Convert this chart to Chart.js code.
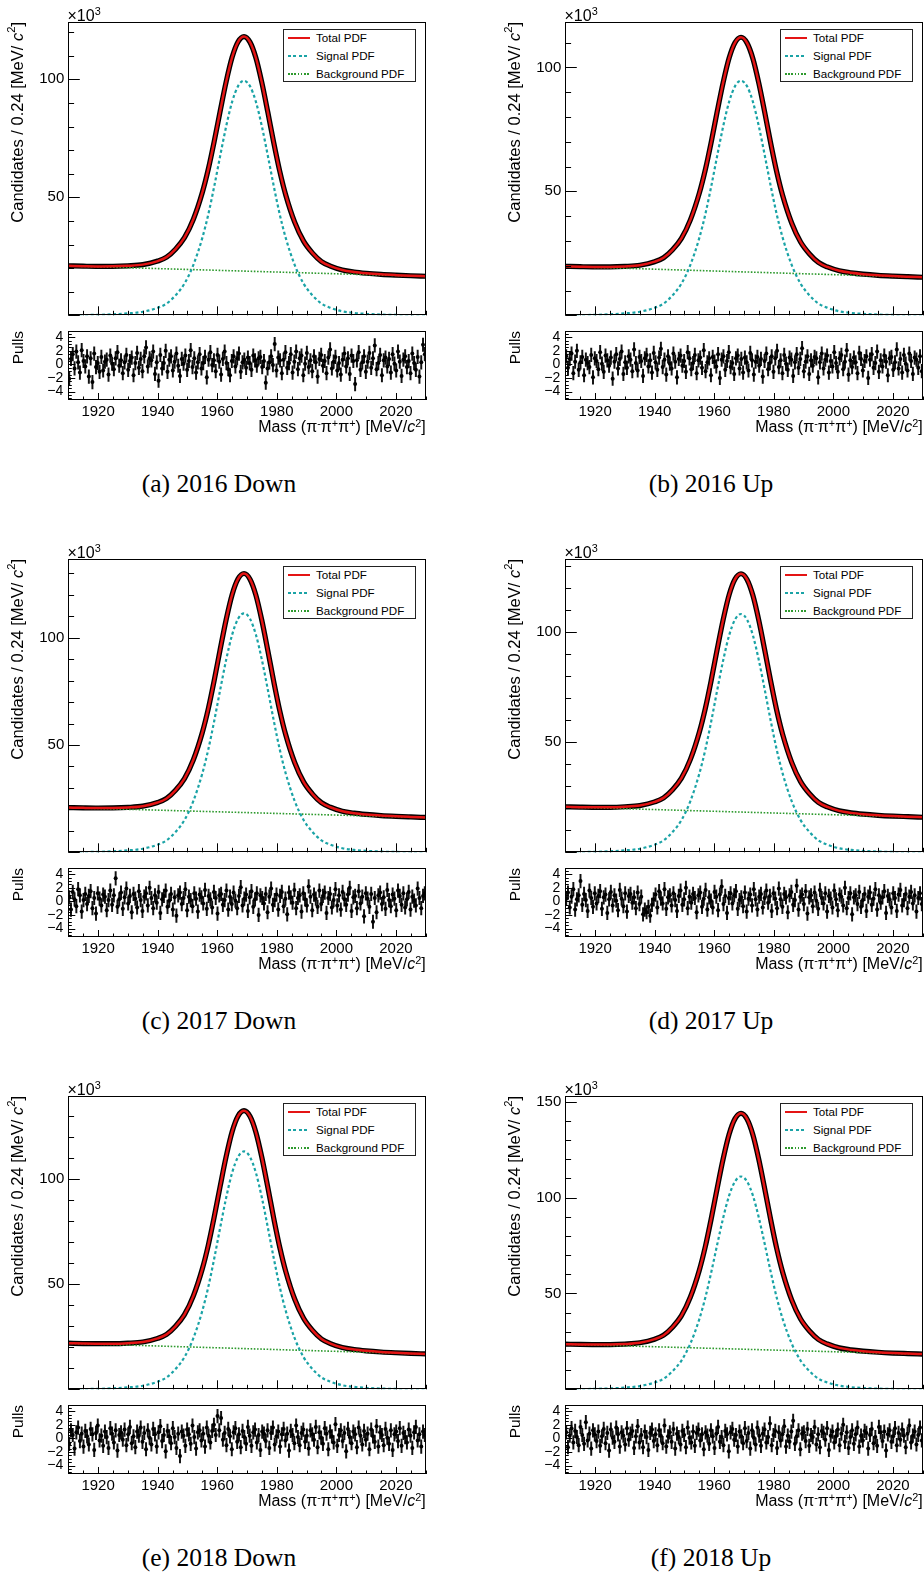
<!DOCTYPE html>
<html><head><meta charset="utf-8">
<script src="https://cdn.jsdelivr.net/npm/chart.js@4.4.1/dist/chart.umd.min.js"></script>
<style>
html,body{margin:0;padding:0;background:#fff;}
body{width:924px;height:1578px;position:relative;overflow:hidden;font-family:"Liberation Sans",Arial,sans-serif;color:#000;}
canvas{position:absolute;}
.ytitle{position:absolute;writing-mode:vertical-rl;transform:rotate(180deg);white-space:nowrap;line-height:1;}
.vsup{font-size:0.68em;vertical-align:super;line-height:0;}
.xtitle{position:absolute;white-space:nowrap;text-align:right;font-size:16px;line-height:16px;}
.sup{font-size:0.68em;position:relative;top:-0.5em;line-height:0;}
.exp{position:absolute;font-size:16px;line-height:16px;white-space:nowrap;}
.caption{position:absolute;font-family:"Liberation Serif","Times New Roman",serif;font-size:25.5px;line-height:1;white-space:nowrap;transform:translate(-50%,-50%);}
.legend{position:absolute;border:1px solid #222;background:#fff;width:133px;height:53px;box-sizing:border-box;font-size:11.6px;}
.legend .t{position:absolute;left:32px;line-height:12px;white-space:nowrap;}
.legend .s{position:absolute;left:4px;width:22px;}
</style>
</head><body>
<script>
// ---------- data (values in units of 10^3 candidates) ----------
const MASS = [1910,1915,1920,1925,1930,1935,1940,1943,1946,1949,1952,1955,1957,1959,1961,1963,1965,1967,1969,1971,1973,1975,1977,1979,1981,1983,1986,1989,1992,1995,1998,2002,2006,2010,2015,2020,2025,2030];
const BG_MASS = [1910, 2030];

const totalA = [20.95,20.82,20.73,20.75,20.97,21.47,22.98,24.66,28.03,32.89,40.73,52.05,61.92,73.77,86.62,98.98,109.33,115.92,118.14,115.77,109.04,98.54,86.03,73.04,61.04,51.02,39.48,31.42,26.34,22.75,20.85,19.22,18.37,17.83,17.35,17.02,16.76,16.54];
const signalA = [0.05,0.1,0.2,0.4,0.8,1.49,3.18,4.97,8.45,13.42,21.37,32.8,42.74,54.67,67.59,80.02,90.45,97.11,99.4,97.11,90.45,80.02,67.59,54.67,42.74,32.8,21.37,13.42,8.45,4.97,3.18,1.69,0.99,0.6,0.3,0.15,0.08,0.04];
const bgA = [20.9, 16.5];

const totalB = [19.75,19.61,19.52,19.53,19.73,20.2,21.63,23.22,26.42,31.04,38.5,49.27,58.66,69.93,82.16,93.91,103.77,110.03,112.14,109.88,103.48,93.47,81.57,69.2,57.78,48.24,37.25,29.57,24.73,21.31,19.5,17.94,17.13,16.6,16.13,15.81,15.56,15.34];
const signalB = [0.05,0.09,0.19,0.38,0.76,1.42,3.03,4.73,8.04,12.77,20.34,31.22,40.68,52.03,64.33,76.15,86.09,92.42,94.6,92.42,86.09,76.15,64.33,52.03,40.68,31.22,20.34,12.77,8.04,4.73,3.03,1.61,0.95,0.57,0.28,0.14,0.08,0.04];
const bgB = [19.7, 15.3];

const totalC = [20.86,20.72,20.64,20.68,20.92,21.51,23.21,25.11,28.89,34.35,43.14,55.84,66.9,80.19,94.6,108.45,120.06,127.46,129.94,127.3,119.76,107.99,93.98,79.43,65.98,54.76,41.84,32.81,27.13,23.11,20.99,19.16,18.23,17.64,17.11,16.75,16.48,16.24];
const signalC = [0.06,0.11,0.22,0.45,0.89,1.67,3.56,5.57,9.47,15.04,23.95,36.76,47.9,61.27,75.75,89.68,101.37,108.84,111.4,108.84,101.37,89.68,75.75,61.27,47.9,36.76,23.95,15.04,9.47,5.57,3.56,1.89,1.11,0.67,0.33,0.17,0.09,0.04];
const bgC = [20.8, 16.2];

const totalD = [20.65,20.51,20.43,20.44,20.69,21.24,22.9,24.73,28.4,33.69,42.24,54.58,65.33,78.25,92.24,105.7,117,124.18,126.59,124.02,116.68,105.23,91.62,77.47,64.39,53.48,40.9,32.13,26.6,22.69,20.62,18.84,17.92,17.33,16.81,16.45,16.19,15.94];
const signalD = [0.05,0.11,0.22,0.43,0.87,1.62,3.47,5.42,9.21,14.62,23.28,35.74,46.57,59.57,73.64,87.18,98.55,105.81,108.3,105.81,98.55,87.18,73.64,59.57,46.57,35.74,23.28,14.62,9.21,5.42,3.47,1.84,1.08,0.65,0.32,0.16,0.09,0.04];
const bgD = [20.6, 15.9];

const totalE = [21.96,21.8,21.71,21.71,21.96,22.54,24.26,26.17,30,35.54,44.48,57.38,68.62,82.14,96.77,110.86,122.66,130.17,132.69,130,122.32,110.35,96.09,81.29,67.6,56.19,43.03,33.84,28.05,23.96,21.79,19.92,18.95,18.33,17.78,17.4,17.1,16.85];
const signalE = [0.06,0.11,0.23,0.45,0.91,1.7,3.63,5.67,9.63,15.3,24.36,37.39,48.72,62.32,77.04,91.21,103.1,110.69,113.3,110.69,103.1,91.21,77.04,62.32,48.72,37.39,24.36,15.3,9.63,5.67,3.63,1.93,1.13,0.68,0.34,0.17,0.09,0.05];
const bgE = [21.9, 16.8];

const totalF = [23.56,23.4,23.32,23.34,23.61,24.27,26.14,28.22,32.4,38.42,48.13,62.14,74.35,89.03,104.93,120.22,133.05,141.2,143.94,141.03,132.7,119.7,104.24,88.16,73.31,60.93,46.66,36.69,30.41,25.97,23.63,21.6,20.57,19.9,19.32,18.91,18.62,18.35];
const signalF = [0.06,0.11,0.22,0.44,0.89,1.67,3.55,5.55,9.44,14.99,23.87,36.63,47.73,61.05,75.48,89.36,101.01,108.45,111,108.45,101.01,89.36,75.48,61.05,47.73,36.63,23.87,14.99,9.44,5.55,3.55,1.89,1.11,0.67,0.33,0.17,0.09,0.04];
const bgF = [23.5, 18.3];

// pulls: 200 bins of 0.6 MeV from 1910 to 2030
const pullsA = [-2.1,0.8,1.5,-0.6,1.9,0.3,-1.2,2.1,0.5,-0.3, 1.2,-1.8,0.9,-2.6,1.6,-0.4,0.2,-1.1,1.1,-0.9, 0.4,0.7,-1.5,1.3,0.1,-0.7,0.9,1.8,-0.2,0.6, -1.3,0.3,1.4,-0.8,0.5,1.0,-1.6,0.2,1.7,-0.5, 0.8,-1.0,1.2,2.5,-0.3,0.9,0.6,1.9,-1.4,0.3, -2.4,1.4,-0.6,0.2,2.0,-1.1,0.7,1.2,-0.9,0.4, 1.6,-0.2,-1.7,0.8,0.1,1.3,-0.8,0.5,2.1,-0.4, 0.9,-1.2,0.3,1.5,-0.6,0.2,1.1,-1.9,0.7,1.8, -0.1,0.6,-1.0,1.4,0.4,-1.5,0.8,1.9,0.2,-0.7, -1.6,0.5,1.2,-0.3,0.9,1.6,-1.1,0.3,0.7,-0.5, 1.0,0.2,-0.8,1.3,0.6,-0.2,0.9,1.1,-0.4,0.5, -2.7,-0.6,0.3,1.2,-0.1,3.0,-0.9,1.0,0.6,-1.3, 0.7,1.8,-0.5,0.2,1.5,-1.2,0.4,1.9,-0.7,0.9, 1.3,-1.6,0.1,1.7,-0.4,0.6,-1.0,1.2,0.3,-1.8, 0.8,1.4,-0.2,0.5,-1.3,1.0,2.2,-0.6,0.4,1.1, -0.9,0.2,-1.5,0.7,1.6,-0.3,0.9,-1.4,1.3,0.5, -2.9,0.6,1.8,-0.8,0.3,1.2,-1.1,0.4,1.7,-0.5, 0.9,2.8,-0.7,0.2,1.4,-1.6,0.6,1.0,-0.3,0.8, -1.2,1.5,0.1,-0.9,1.9,0.4,-1.7,0.7,1.2,-0.4, 0.5,-1.3,1.6,0.2,-0.8,1.1,-1.8,0.3,2.9,1.5];
const pullsB = [1.2,-0.5,0.8,1.6,-1.3,0.4,2.0,-0.8,0.3,1.1, -1.6,0.7,0.2,-0.4,1.4,-1.9,0.9,0.5,-0.7,1.8, 0.1,-1.1,1.3,0.6,-0.2,1.0,-2.1,0.4,1.5,-0.6, 0.8,1.9,-1.4,0.3,-0.5,1.2,0.7,-1.0,2.2,0.2, -0.9,1.1,0.5,-1.7,0.9,1.4,-0.3,0.6,-1.2,1.7, 0.3,-0.8,1.0,2.3,-0.4,0.7,-1.5,1.2,0.1,-0.6, 1.6,0.4,-1.9,0.8,1.3,-0.2,0.5,-1.1,1.8,0.9, -0.7,0.2,1.4,-1.3,0.6,1.0,-0.5,2.1,-1.0,0.3, 0.9,-1.6,1.1,0.4,-0.3,1.5,-2.0,0.7,1.2,-0.8, 0.5,1.8,-0.4,0.2,-1.4,0.9,1.3,-0.6,0.8,-1.2, 1.0,0.3,-0.9,1.7,0.6,-1.5,0.4,1.1,-0.2,0.8, -1.8,0.5,1.6,-0.7,0.2,1.2,-1.1,0.9,2.0,-0.4, 0.6,-1.3,1.4,0.1,-0.8,1.0,0.7,-1.7,0.3,1.5, -0.5,0.8,2.4,-1.0,0.4,1.2,-1.4,0.6,-0.2,1.1, 0.9,-1.9,0.3,1.6,-0.6,0.7,1.3,-1.2,0.5,-0.3, 1.8,0.2,-1.1,0.9,1.4,-0.7,0.4,2.1,-1.5,0.6, -0.4,1.0,0.3,-1.3,1.7,0.8,-0.9,0.5,1.2,-2.0, 0.7,1.5,-0.5,0.2,1.9,-1.1,0.6,-0.3,1.3,0.4, -1.6,0.9,1.1,-0.8,0.3,2.2,-0.6,0.8,-1.2,1.4, 0.1,-0.9,1.6,0.5,-1.4,1.0,0.7,-0.5,1.2,-1.0];
const pullsC = [0.6,-1.2,1.4,0.3,-0.7,1.8,0.9,-1.5,0.2,1.1, -0.4,0.8,1.5,-1.0,0.5,-1.8,1.2,0.4,-0.6,1.0, 0.7,-1.3,0.2,1.6,-0.5,0.9,3.4,-0.8,0.3,1.3, -1.1,0.6,1.9,-0.3,0.8,-1.6,1.1,0.4,-0.9,1.5, 0.2,-1.4,0.7,1.2,-0.6,2.0,0.5,-1.0,0.9,-0.2, 1.4,-1.7,0.3,0.8,1.6,-0.8,0.1,1.1,-1.2,0.6, -2.1,0.9,1.3,-0.4,0.5,1.8,-1.3,0.7,0.2,-0.7, 1.2,0.4,-1.5,1.0,0.6,-0.3,1.7,-1.1,0.8,0.3, -0.9,1.4,0.5,-1.8,0.9,1.1,-0.5,0.2,1.6,-1.2, 0.7,-0.4,1.3,0.1,-1.0,0.8,2.1,-0.6,0.4,1.0, -1.4,0.6,1.5,-0.8,0.3,1.2,-2.0,0.9,0.5,-0.3, 1.1,-1.6,0.7,1.9,-0.5,0.2,1.0,-1.2,0.8,1.4, -0.7,0.4,-1.9,1.3,0.6,-0.2,1.7,-1.0,0.5,0.9, -1.5,1.2,0.3,-0.6,2.2,0.7,-1.3,1.0,0.4,-0.8, 1.6,-0.4,0.8,1.3,-1.7,0.5,1.1,-0.9,0.2,1.8, -0.6,0.9,-1.2,1.4,0.3,-0.5,1.0,2.0,-1.4,0.6, 0.8,-1.0,1.5,-0.3,0.7,-2.2,1.2,0.4,-0.8,1.1, -3.0,0.5,-1.6,0.9,1.3,-0.4,0.6,-1.1,1.7,0.2, -0.7,1.0,0.4,-1.3,1.6,0.8,-0.5,1.2,-0.9,0.3, 1.4,-1.2,0.7,0.1,-0.6,1.9,0.5,-1.0,0.8,1.2];
const pullsD = [0.4,1.3,-0.9,0.7,1.8,-1.2,0.3,0.9,3.0,-0.5, 1.1,0.2,-1.4,1.6,0.5,-0.8,1.2,-0.3,0.8,1.5, -1.1,0.6,1.0,-1.7,0.3,1.4,-0.6,0.9,0.1,-1.3, 1.7,0.4,-0.7,1.2,-1.5,0.8,1.1,-0.2,0.6,-1.0, 1.3,-0.4,0.7,-1.9,-1.2,-1.6,-0.8,-2.1,-0.5,0.3, 1.0,-0.9,1.5,0.4,-0.3,1.8,-1.1,0.6,0.9,-0.6, 1.2,0.2,-1.4,0.8,1.6,-0.5,0.3,2.0,-1.0,0.7, -0.2,1.1,0.5,-1.6,0.9,1.3,-0.8,0.4,1.7,-1.2, 0.6,0.1,-0.9,1.4,0.7,-1.3,1.0,2.2,-0.4,0.8, -1.7,0.5,1.2,-0.3,0.9,1.5,-1.1,0.2,0.6,-0.7, 1.3,-1.5,0.4,1.0,-0.6,1.8,0.3,-1.2,0.7,1.1, -0.9,0.5,1.6,-0.2,0.8,-1.4,1.2,0.4,-1.0,1.9, 0.3,-0.8,1.1,0.6,-1.6,0.9,1.4,-0.5,0.2,2.3, -1.2,0.7,1.0,-0.4,1.5,-1.8,0.6,0.9,-0.7,1.3, 0.1,-1.1,1.7,0.5,-0.3,1.2,-1.5,0.8,0.4,-0.9, 1.6,0.3,-1.3,1.0,0.7,-0.6,2.0,-1.0,0.5,1.2, -1.9,0.6,0.9,-0.4,1.4,-0.8,0.2,1.1,-1.4,0.7, 1.3,-0.5,0.4,1.8,-1.2,0.9,-0.2,0.6,1.5,-1.7, 0.8,0.3,-0.9,1.2,0.5,-1.4,1.0,1.7,-0.6,0.2, 1.1,-1.0,0.7,1.4,-0.3,0.9,-1.5,0.5,1.2,-0.4];
const pullsE = [-0.8,1.2,0.5,-1.5,0.9,1.6,-0.4,0.7,-1.2,1.1, 0.3,-0.9,1.4,0.6,-1.7,0.8,1.9,-0.3,0.4,-1.1, 1.0,0.2,-1.4,1.5,0.7,-0.6,1.2,-1.8,0.5,0.9, -0.2,1.3,-1.0,0.6,1.7,-0.7,0.3,-1.3,1.0,0.4, 1.6,-0.5,0.8,-1.6,1.2,0.1,-0.9,1.4,0.6,-1.2, 0.9,1.8,-0.4,0.5,-1.9,1.1,0.3,-0.7,1.5,0.2, -1.4,0.7,-2.6,1.0,0.4,-1.1,1.3,0.6,-0.8,1.9, 0.2,-1.5,0.9,1.2,-0.3,0.7,-1.2,1.6,0.4,-0.6, 1.1,2.0,0.5,3.3,1.2,3.0,-0.2,0.8,-1.0,1.4, 0.3,-1.6,0.9,1.5,-0.5,0.6,-1.3,1.1,0.2,-0.8, 1.7,0.4,-1.1,0.9,1.3,-0.6,0.5,-1.7,1.0,0.7, -0.4,1.2,-1.4,0.8,1.6,-0.9,0.3,1.0,-1.2,0.6, 1.4,-0.3,0.7,-1.8,1.1,0.5,-0.7,1.9,0.2,-1.0, 0.8,1.3,-0.5,0.4,-1.5,1.2,0.6,-0.2,1.7,-1.3, 0.9,0.1,-0.8,1.5,0.7,-1.6,1.0,0.3,-0.6,2.1, -1.1,0.5,1.2,-0.4,0.8,-1.9,1.4,0.2,-0.7,1.0, 0.6,-1.3,1.6,0.4,-0.9,1.1,-0.2,0.7,-1.6,1.3, 0.3,-0.5,1.8,-1.2,0.9,0.5,-1.0,1.4,0.1,-0.8, 1.2,-1.7,0.6,1.0,-0.4,1.5,-1.1,0.8,0.2,-0.6, 1.3,0.4,-1.4,0.9,1.7,-0.3,0.6,-1.2,1.0,0.5];
const pullsF = [0.9,-1.3,0.4,1.5,-0.6,1.1,0.2,-1.0,1.7,0.5, -0.8,2.4,-0.3,0.7,-1.5,1.2,0.6,-0.4,1.0,-1.1, 0.3,1.4,-0.7,0.8,-1.8,1.3,0.1,-0.5,1.6,0.6, -1.2,0.9,0.4,-0.9,1.5,-0.2,0.7,1.1,-1.4,0.3, 1.8,-0.6,0.5,-1.3,1.0,0.2,-1.7,0.8,1.3,-0.4, 0.6,-1.0,1.2,0.4,-0.7,1.9,-1.2,0.3,0.9,-0.5, 1.4,-1.5,0.7,0.2,-0.9,1.1,0.5,-1.3,1.6,0.1, -0.6,1.0,-1.1,0.8,1.3,-0.3,0.6,-1.6,0.9,0.4, -0.8,1.2,0.3,-1.4,0.7,1.7,-0.5,0.2,-1.0,1.1, 0.6,-1.9,0.9,1.4,-0.2,0.5,-1.2,1.0,0.3,-0.7, 1.5,-0.4,0.8,-1.5,1.2,0.1,-0.9,1.6,0.4,-1.1, 0.7,1.3,-0.6,0.2,2.2,-1.0,0.5,1.1,-1.4,0.9, -0.3,0.6,1.8,-1.2,0.4,-0.5,1.0,2.6,-0.8,0.3, 1.2,-1.6,0.7,0.9,-0.4,1.4,-1.1,0.5,0.2,1.7, -0.9,0.6,-1.3,1.1,0.8,-0.2,1.5,-1.7,0.4,1.0, -0.6,0.3,1.3,-1.0,0.7,2.0,-0.5,0.9,-1.4,0.2, 1.2,-0.8,0.6,1.6,-1.2,0.4,-0.3,1.1,0.8,-1.5, 0.5,1.4,-0.7,0.2,-1.1,1.7,0.9,-0.4,1.0,-1.8, 0.6,1.2,-0.5,0.3,1.5,-1.0,0.8,-0.2,1.3,0.4, -1.3,0.7,1.9,-0.6,0.4,1.0,-0.9,0.5,1.6,-0.3];
const PULL_MASS = Array.from({length: 200}, (_, i) => Math.round((1910.3 + 0.6 * i) * 10) / 10);

const Y_MAX = [124.3, 118.3, 136.7, 133.3, 139.7, 153];
const CAPTIONS = ['(a) 2016 Down', '(b) 2016 Up', '(c) 2017 Down', '(d) 2017 Up', '(e) 2018 Down', '(f) 2018 Up'];
const LEGEND_LABELS = ['Total PDF', 'Signal PDF', 'Background PDF'];
const X_TICK_LABELS = [1920, 1940, 1960, 1980, 2000, 2020];

const panels = [
  {total: totalA, signal: signalA, bg: bgA, pulls: pullsA},
  {total: totalB, signal: signalB, bg: bgB, pulls: pullsB},
  {total: totalC, signal: signalC, bg: bgC, pulls: pullsC},
  {total: totalD, signal: signalD, bg: bgD, pulls: pullsD},
  {total: totalE, signal: signalE, bg: bgE, pulls: pullsE},
  {total: totalF, signal: signalF, bg: bgF, pulls: pullsF}
];

// ---------- styling / layout ----------
const RED = '#e41414', TEAL = '#1aa3a6', GREEN = '#2e9a2e';
const COLX = [0, 497], ROWY = [0, 537, 1074], CAPX = [219, 711];
const FONT = 'Liberation Sans';

const rootAxes = {
  id: 'rootAxes',
  afterDatasetsDraw(chart, args, o) {
    const {ctx, chartArea: a, scales: {x, y}} = chart;
    ctx.save();
    ctx.strokeStyle = '#000'; ctx.lineWidth = 1;
    ctx.beginPath();
    for (const t of x.ticks) {
      const px = Math.round(x.getPixelForValue(t.value)) + 0.5;
      const r = t.value / o.xMajor;
      const len = Math.abs(r - Math.round(r)) < 1e-6 ? o.xMajLen : o.xMinLen;
      ctx.moveTo(px, a.bottom); ctx.lineTo(px, a.bottom - len);
    }
    for (const t of y.ticks) {
      const py = Math.round(y.getPixelForValue(t.value)) + 0.5;
      const r = t.value / o.yMajor;
      const len = Math.abs(r - Math.round(r)) < 1e-6 ? o.yMajLen : o.yMinLen;
      ctx.moveTo(a.left, py); ctx.lineTo(a.left + len, py);
    }
    ctx.stroke();
    const l = Math.round(a.left) + 0.5, t = Math.round(a.top) + 0.5;
    const r = Math.round(a.right) - 0.5, b = Math.round(a.bottom) - 0.5;
    ctx.strokeRect(l, t, r - l, b - t);
    ctx.restore();
  }
};

function el(tag, cls, style, html) {
  const e = document.createElement(tag);
  if (cls) e.className = cls;
  Object.assign(e.style, style);
  if (html !== undefined) e.innerHTML = html;
  document.body.appendChild(e);
  return e;
}
function canvas(left, top, w, h) {
  const c = document.createElement('canvas');
  c.width = w; c.height = h;
  c.style.left = left + 'px'; c.style.top = top + 'px';
  c.style.width = w + 'px'; c.style.height = h + 'px';
  document.body.appendChild(c);
  return c;
}
const pts = (xs, ys) => xs.map((x, i) => ({x, y: ys[i]}));
const fixY = w => s => { s.width = w; s.paddingTop = 0; s.paddingBottom = 0; };
const fixX = h => s => { s.height = h; s.paddingLeft = 0; s.paddingRight = 0; };

panels.forEach((p, k) => {
  const col = k % 2, row = Math.floor(k / 2);
  const X0 = COLX[col], Y0 = ROWY[row];

  // main fit plot
  new Chart(canvas(X0, Y0, 430, 320), {
    type: 'line',
    data: {
      datasets: [
        {label: 'Total PDF', data: pts(MASS, p.total), borderColor: RED, borderWidth: 2.5, order: 0},
        {label: 'Signal PDF', data: pts(MASS, p.signal), borderColor: TEAL, borderWidth: 2.2, borderDash: [3, 2.6], order: 1},
        {label: 'Background PDF', data: pts(BG_MASS, p.bg), borderColor: GREEN, borderWidth: 1.6, borderDash: [1.6, 1.6], order: 2},
        {label: 'Data', data: pts(MASS, p.total), borderColor: '#000', borderWidth: 5.2, order: 3}
      ]
    },
    options: {
      responsive: false, animation: false, devicePixelRatio: 1,
      layout: {padding: {top: 22, right: 4.3, bottom: 4.7, left: 0}},
      elements: {point: {radius: 0}, line: {cubicInterpolationMode: 'monotone', fill: false}},
      plugins: {legend: {display: false}, tooltip: {enabled: false},
        rootAxes: {xMajor: 20, xMajLen: 9, xMinLen: 4.5, yMajor: 50, yMajLen: 11.5, yMinLen: 5.8}},
      scales: {
        x: {type: 'linear', min: 1910, max: 2030,
            ticks: {display: false, stepSize: 5, autoSkip: false, includeBounds: false},
            grid: {display: false, drawTicks: false}, border: {display: false},
            afterFit: fixX(0)},
        y: {type: 'linear', min: 0, max: Y_MAX[k],
            ticks: {stepSize: 10, autoSkip: false, includeBounds: false, padding: 4, color: '#000',
                    font: {family: FONT, size: 15},
                    callback: v => (v > 0 && v % 50 === 0) ? String(v) : ''},
            grid: {display: false, drawTicks: false}, border: {display: false},
            afterFit: fixY(68.3)}
      }
    },
    plugins: [rootAxes]
  });

  // pulls plot
  new Chart(canvas(X0, Y0 + 323, 430, 100), {
    type: 'bar',
    data: {
      datasets: [
        {type: 'scatter', label: 'Pulls', data: pts(PULL_MASS, p.pulls), pointRadius: 2,
         pointBackgroundColor: '#000', pointBorderWidth: 0, showLine: false, order: 0},
        {type: 'bar', label: 'Pull errors', data: PULL_MASS.map((x, i) => ({x, y: [p.pulls[i] - 1, p.pulls[i] + 1]})),
         backgroundColor: '#111', barThickness: 1.3, order: 1}
      ]
    },
    options: {
      responsive: false, animation: false, devicePixelRatio: 1,
      layout: {padding: {top: 7.5, right: 4.3, bottom: 3, left: 0}},
      plugins: {legend: {display: false}, tooltip: {enabled: false},
        rootAxes: {xMajor: 20, xMajLen: 7, xMinLen: 3.5, yMajor: 2, yMajLen: 7, yMinLen: 3.5}},
      scales: {
        x: {type: 'linear', min: 1910, max: 2030, offset: false,
            ticks: {stepSize: 5, autoSkip: false, includeBounds: false, maxRotation: 0, minRotation: 0,
                    padding: 3, color: '#000', font: {family: FONT, size: 15},
                    callback: v => X_TICK_LABELS.includes(v) ? String(v) : ''},
            grid: {display: false, drawTicks: false}, border: {display: false},
            afterFit: fixX(20)},
        y: {type: 'linear', min: -5.25, max: 5,
            ticks: {stepSize: 0.5, autoSkip: false, includeBounds: false, padding: 5, color: '#000',
                    font: {family: FONT, size: 14},
                    callback: v => {
                      const r = v / 2;
                      if (Math.abs(r - Math.round(r)) > 1e-6 || Math.abs(v) > 4.01) return '';
                      return v < 0 ? '\u2212' + (-v) : String(Math.abs(v));
                    }},
            grid: {display: false, drawTicks: false}, border: {display: false},
            afterFit: fixY(68.3)}
      }
    },
    plugins: [rootAxes]
  });

  // titles and annotations (real text)
  el('div', 'ytitle', {left: (X0 + 9.2) + 'px', top: (Y0 + 22) + 'px', fontSize: '16.5px'},
     'Candidates / 0.24 [MeV/ <i>c</i><span class="vsup">2</span>]');
  el('div', 'ytitle', {left: (X0 + 9.8) + 'px', top: (Y0 + 330.5) + 'px', fontSize: '15.4px'}, 'Pulls');
  el('div', 'xtitle', {left: (X0 + 425.7 - 300) + 'px', width: '300px', top: (Y0 + 419) + 'px'},
     'Mass (&pi;<span class="sup">-</span>&pi;<span class="sup">+</span>&pi;<span class="sup">+</span>) [MeV/<i>c</i><span class="sup">2</span>]');
  el('div', 'exp', {left: (X0 + 67.5) + 'px', top: (Y0 + 7.5) + 'px'}, '&times;10<span class="sup">3</span>');
  el('div', 'caption', {left: CAPX[col] + 'px', top: (484 + Y0) + 'px'}, CAPTIONS[k]);

  const lg = el('div', 'legend', {left: (X0 + 283) + 'px', top: (Y0 + 29) + 'px'});
  const rowsY = [8.2, 26.2, 43.8];
  const samples = [
    {height: '2.5px', background: RED},
    {height: '2px', background: `repeating-linear-gradient(to right, ${TEAL} 0 3px, transparent 3px 5.5px)`},
    {height: '1.6px', background: `repeating-linear-gradient(to right, ${GREEN} 0 1.6px, transparent 1.6px 3.2px)`}
  ];
  LEGEND_LABELS.forEach((lab, i) => {
    const s = document.createElement('div'); s.className = 's';
    Object.assign(s.style, samples[i], {top: (rowsY[i] - parseFloat(samples[i].height) / 2) + 'px'});
    lg.appendChild(s);
    const t = document.createElement('div'); t.className = 't';
    t.style.top = (rowsY[i] - 6) + 'px'; t.textContent = lab;
    lg.appendChild(t);
  });
});
</script>
</body></html>
